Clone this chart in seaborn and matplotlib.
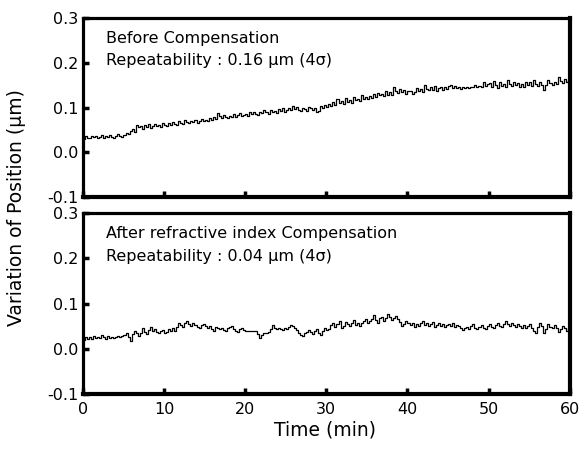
import matplotlib
matplotlib.use("Agg")
import matplotlib.pyplot as plt
import seaborn as sns
import pandas as pd

# ---- data (0.25 min sampling) ----
before_comp = [
    0.030, 0.036, 0.033, 0.031, 0.037, 0.034, 0.036, 0.032, 0.035, 0.038, 0.033, 0.036, 0.034, 0.039, 0.035, 0.033, 0.037, 0.041, 0.036, 0.034, 0.038,
    0.044, 0.040, 0.047, 0.051, 0.046, 0.062, 0.056, 0.058, 0.053, 0.061, 0.057, 0.063, 0.055, 0.059, 0.064, 0.058, 0.062, 0.057, 0.066, 0.061,
    0.058, 0.065, 0.061, 0.068, 0.063, 0.060, 0.070, 0.066, 0.064, 0.072, 0.067, 0.065, 0.071, 0.068, 0.073, 0.066, 0.070, 0.075, 0.069, 0.072,
    0.070, 0.076, 0.073, 0.079, 0.074, 0.088, 0.081, 0.077, 0.083, 0.079, 0.076, 0.082, 0.080, 0.085, 0.078, 0.083, 0.087, 0.081, 0.084, 0.086,
    0.082, 0.089, 0.085, 0.091, 0.086, 0.083, 0.090, 0.087, 0.094, 0.089, 0.086, 0.095, 0.090, 0.093, 0.088, 0.097, 0.092, 0.099, 0.091, 0.094,
    0.100, 0.094, 0.103, 0.097, 0.101, 0.095, 0.092, 0.099, 0.096, 0.093, 0.101, 0.098, 0.094, 0.100, 0.089, 0.093, 0.104, 0.099, 0.106, 0.101,
    0.108, 0.103, 0.112, 0.106, 0.119, 0.110, 0.115, 0.108, 0.121, 0.113, 0.117, 0.111, 0.123, 0.116, 0.120, 0.114, 0.127, 0.119, 0.123, 0.118,
    0.126, 0.121, 0.130, 0.124, 0.133, 0.127, 0.131, 0.125, 0.137, 0.129, 0.134, 0.128, 0.147, 0.136, 0.133, 0.141, 0.135, 0.139, 0.131, 0.136,
    0.138, 0.130, 0.135, 0.143, 0.137, 0.141, 0.135, 0.151, 0.142, 0.139, 0.147, 0.140, 0.149, 0.138, 0.144, 0.147, 0.140, 0.145, 0.142, 0.148,
    0.150, 0.144, 0.148, 0.143, 0.147, 0.142, 0.145, 0.144, 0.146, 0.143, 0.145, 0.147, 0.151, 0.145, 0.149, 0.146, 0.157, 0.148, 0.152, 0.155,
    0.147, 0.159, 0.150, 0.144, 0.156, 0.149, 0.153, 0.147, 0.161, 0.152, 0.149, 0.157, 0.150, 0.155, 0.147, 0.152, 0.145, 0.158, 0.151, 0.156,
    0.149, 0.162, 0.153, 0.148, 0.157, 0.151, 0.139, 0.150, 0.161, 0.154, 0.150, 0.158, 0.152, 0.169, 0.160, 0.155, 0.163, 0.156, 0.161, 0.158,
]

after_comp = [
    0.020, 0.026, 0.022, 0.025, 0.021, 0.028, 0.023, 0.026, 0.024, 0.030, 0.025, 0.022, 0.028, 0.024, 0.027, 0.023, 0.026, 0.029, 0.025, 0.028, 0.030,
    0.036, 0.027, 0.018, 0.032, 0.040, 0.034, 0.028, 0.036, 0.045, 0.037, 0.033, 0.041, 0.048, 0.040, 0.044, 0.038, 0.035, 0.039, 0.042, 0.036,
    0.038, 0.043, 0.039, 0.045, 0.040, 0.048, 0.058, 0.052, 0.049, 0.056, 0.061, 0.054, 0.051, 0.057, 0.053, 0.049, 0.045, 0.052, 0.055, 0.050,
    0.047, 0.051, 0.043, 0.040, 0.049, 0.045, 0.043, 0.047, 0.041, 0.039, 0.045, 0.048, 0.051, 0.044, 0.040, 0.038, 0.043, 0.046, 0.041, 0.039,
    0.040, 0.040, 0.040, 0.040, 0.040, 0.032, 0.023, 0.030, 0.036, 0.034, 0.038, 0.044, 0.053, 0.046, 0.043, 0.047, 0.044, 0.041, 0.046, 0.043,
    0.048, 0.053, 0.050, 0.046, 0.041, 0.036, 0.031, 0.028, 0.035, 0.038, 0.042, 0.037, 0.033, 0.040, 0.044, 0.035, 0.031, 0.040, 0.046, 0.042,
    0.044, 0.052, 0.057, 0.049, 0.054, 0.062, 0.047, 0.051, 0.060, 0.055, 0.050, 0.058, 0.064, 0.053, 0.058, 0.050, 0.056, 0.062, 0.066, 0.058,
    0.061, 0.066, 0.074, 0.063, 0.058, 0.068, 0.071, 0.062, 0.067, 0.076, 0.070, 0.064, 0.069, 0.073, 0.066, 0.059, 0.050, 0.055, 0.061, 0.057,
    0.052, 0.056, 0.049, 0.054, 0.050, 0.058, 0.061, 0.053, 0.057, 0.051, 0.055, 0.059, 0.049, 0.053, 0.057, 0.050, 0.054, 0.048, 0.052, 0.055,
    0.050, 0.056, 0.048, 0.053, 0.050, 0.046, 0.042, 0.045, 0.048, 0.044, 0.051, 0.054, 0.046, 0.043, 0.049, 0.052, 0.047, 0.044, 0.050, 0.054,
    0.049, 0.046, 0.053, 0.057, 0.051, 0.048, 0.055, 0.061, 0.054, 0.050, 0.057, 0.053, 0.049, 0.055, 0.051, 0.047, 0.053, 0.045, 0.050, 0.054,
    0.046, 0.040, 0.035, 0.049, 0.056, 0.050, 0.034, 0.043, 0.055, 0.049, 0.045, 0.053, 0.047, 0.038, 0.044, 0.051, 0.046, 0.040, 0.047, 0.045,
]

sample_step_min = 0.25
x_ticks = [0, 10, 20, 30, 40, 50, 60]
y_ticks = [-0.1, 0.0, 0.1, 0.2, 0.3]
y_ticklabels = ["-0.1", "0.0", "0.1", "0.2", "0.3"]

panel_text = [
    ["Before Compensation", "Repeatability : 0.16 \u03bcm (4\u03c3)"],
    ["After refractive index Compensation", "Repeatability : 0.04 \u03bcm (4\u03c3)"],
]
ylabel = "Variation of Position (\u03bcm)"
xlabel = "Time (min)"

# ---- style ----
sns.set_style("white")
plt.rcParams["font.family"] = ["DejaVu Sans"]
plt.rcParams["text.color"] = "black"

fig = plt.figure(figsize=(5.88, 4.5), dpi=100)
ax_top = fig.add_axes([0.141, 0.562, 0.828, 0.398])
ax_bot = fig.add_axes([0.141, 0.1244, 0.828, 0.402])

df_before = pd.DataFrame({"t": [i * sample_step_min for i in range(len(before_comp))],
                          "v": before_comp})
df_after = pd.DataFrame({"t": [i * sample_step_min for i in range(len(after_comp))],
                         "v": after_comp})

for ax, df, texts, show_x in [(ax_top, df_before, panel_text[0], False),
                              (ax_bot, df_after, panel_text[1], True)]:
    sns.lineplot(data=df, x="t", y="v", ax=ax, color="black", linewidth=0.9,
                 drawstyle="steps-post")
    ax.set_xlim(0, 60)
    ax.set_ylim(-0.1, 0.3)
    ax.set_xticks(x_ticks)
    ax.set_yticks(y_ticks)
    ax.set_yticklabels(y_ticklabels)
    if show_x:
        ax.set_xticklabels([str(v) for v in x_ticks])
    else:
        ax.set_xticklabels([])
    ax.tick_params(axis="both", which="major", direction="in", length=4, width=2.5,
                   labelsize=11.5, colors="black", labelcolor="black",
                   bottom=True, left=True, top=False, right=False, pad=3)
    ax.tick_params(axis="x", pad=6)
    ax.set_xlabel("")
    ax.set_ylabel("")
    for side, sp in ax.spines.items():
        sp.set_visible(True)
        sp.set_color("black")
        sp.set_linewidth(3.0 if side in ("right", "bottom") else 2.3)
    ax.text(0.047, 0.888, texts[0], transform=ax.transAxes, fontsize=11.5,
            va="center", ha="left", color="black")
    ax.text(0.047, 0.762, texts[1], transform=ax.transAxes, fontsize=11.5,
            va="center", ha="left", color="black")

fig.text(0.028, 0.538, ylabel, rotation=90, ha="center", va="center",
         fontsize=13.5, color="black")
fig.text(0.553, 0.044, xlabel, ha="center", va="center", fontsize=13.5,
         color="black")

fig.savefig("out.png", dpi=100, facecolor="white")
